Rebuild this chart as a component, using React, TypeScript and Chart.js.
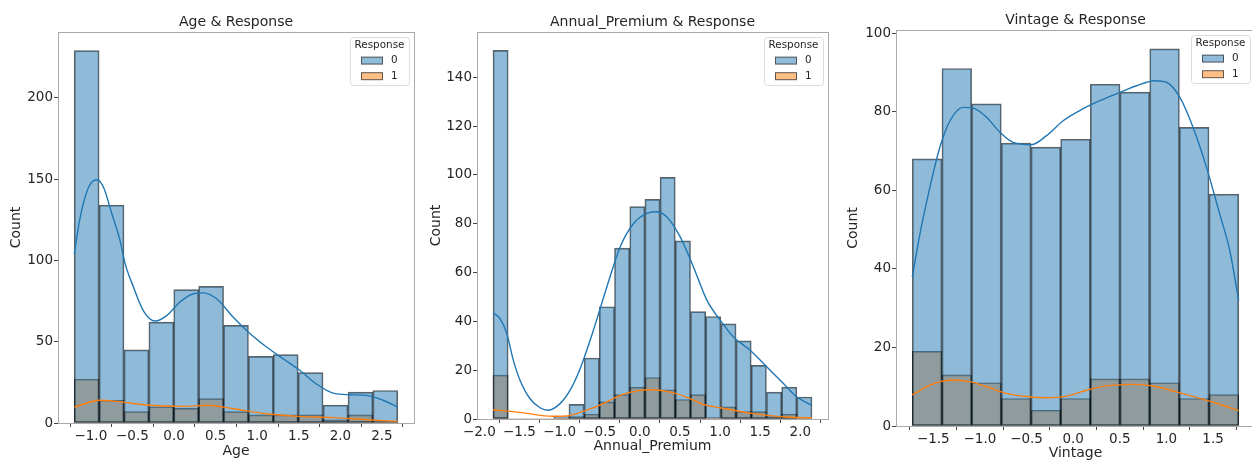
import { useEffect, useRef } from "react";
import { Chart, registerables } from "chart.js";

Chart.register(...registerables);
Chart.defaults.font.family = '"DejaVu Sans", sans-serif';

// ---------- data ----------
const responseLevels = ["0", "1"];
const legendTitle = "Response";

// Age
const ageBinCenters = [-1.05, -0.751, -0.452, -0.153, 0.146, 0.446, 0.745, 1.044, 1.343, 1.642, 1.942, 2.241, 2.54];
const ageCount0 = [229, 134, 45, 62, 82, 84, 60, 41, 42, 31, 11, 19, 20];
const ageCount1 = [27, 14, 7, 10, 9, 15, 7, 5, 5, 5, 2, 5, 1];
const ageKde0: number[][] = [
  [-1.2, 104], [-1.128, 126.6], [-1.028, 145], [-0.928, 149.6], [-0.848, 145], [-0.748, 128.7],
  [-0.648, 112], [-0.588, 98], [-0.488, 83.6], [-0.368, 69], [-0.228, 62.7], [-0.088, 66],
  [0.072, 74.4], [0.232, 79.5], [0.352, 80], [0.512, 76.4], [0.712, 65], [0.912, 55],
  [1.112, 46.7], [1.312, 39.5], [1.512, 32.4], [1.712, 24], [1.912, 18.4], [2.112, 17.4],
  [2.312, 17], [2.512, 14], [2.69, 9.8],
];
const ageKde1: number[][] = [
  [-1.2, 9.8], [-0.888, 14], [-0.688, 13.3], [-0.288, 10.9], [0.112, 10.2], [0.392, 10.9],
  [0.712, 8.8], [1.112, 5.7], [1.512, 4.1], [1.912, 3.3], [2.312, 2], [2.69, 1],
];
const ageXTicks = [-1.0, -0.5, 0.0, 0.5, 1.0, 1.5, 2.0, 2.5];
const ageYTicks = [0, 50, 100, 150, 200];

// Annual_Premium
const premBinCenters = [-1.735, -1.546, -1.357, -1.167, -0.978, -0.789, -0.599, -0.41, -0.221, -0.031, 0.158, 0.347, 0.537, 0.726, 0.915, 1.105, 1.294, 1.483, 1.673, 1.862, 2.051];
const premCount0 = [151, 0, 0, 0, 1, 6, 25, 46, 70, 87, 90, 99, 73, 44, 42, 39, 32, 22, 11, 13, 9];
const premCount1 = [18, 0, 0, 0, 0, 1, 2, 7, 10, 13, 17, 12, 8, 10, 0, 5, 3, 3, 1, 2, 0];
const premKde0: number[][] = [
  [-1.829, 43.5], [-1.742, 41.1], [-1.658, 35], [-1.576, 24], [-1.493, 15.9], [-1.368, 8.3],
  [-1.243, 4.6], [-1.14, 3.6], [-0.994, 6.3], [-0.869, 11.8], [-0.744, 20.6], [-0.578, 36.4],
  [-0.411, 54.1], [-0.245, 70.5], [-0.08, 80], [0.087, 84.2], [0.191, 84.9], [0.337, 82.8],
  [0.503, 74.6], [0.668, 62.3], [0.835, 48.7], [1.001, 40.5], [1.167, 33.6], [1.375, 28.2],
  [1.584, 21.3], [1.79, 14.5], [1.958, 9], [2.145, 5.6],
];
const premKde1: number[][] = [
  [-1.829, 3.8], [-1.493, 2.7], [-1.077, 1.1], [-0.869, 1.5], [-0.661, 3.6], [-0.453, 6.3],
  [-0.245, 9.7], [-0.037, 11.5], [0.15, 12], [0.37, 11.1], [0.58, 9], [0.79, 6], [1.0, 4.6],
  [1.21, 3.3], [1.42, 2.2], [1.625, 1.4], [1.83, 0.8], [2.145, 0.5],
];
const premXTicks = [-2.0, -1.5, -1.0, -0.5, 0.0, 0.5, 1.0, 1.5, 2.0];
const premYTicks = [0, 20, 40, 60, 80, 100, 120, 140];

// Vintage
const vintBinCenters = [-1.566, -1.248, -0.93, -0.611, -0.293, 0.025, 0.343, 0.661, 0.98, 1.298, 1.616];
const vintCount0 = [68, 91, 82, 72, 71, 73, 87, 85, 96, 76, 59];
const vintCount1 = [19, 13, 11, 7, 4, 7, 12, 12, 11, 7, 8];
const vintKde0: number[][] = [
  [-1.725, 37.9], [-1.643, 48.9], [-1.536, 60.8], [-1.429, 71], [-1.321, 77.7], [-1.179, 81.1],
  [-1.071, 80.9], [-0.929, 78.6], [-0.786, 74.8], [-0.643, 72.2], [-0.446, 71.6], [-0.286, 73.9],
  [-0.107, 77.7], [0.071, 80.3], [0.286, 82.8], [0.5, 84.9], [0.679, 86.6], [0.875, 87.9],
  [1.0, 87.5], [1.143, 83.7], [1.286, 76], [1.429, 65.9], [1.571, 54], [1.679, 44.7], [1.775, 32],
];
const vintKde1: number[][] = [
  [-1.725, 7.9], [-1.571, 10], [-1.429, 11.3], [-1.286, 11.7], [-1.107, 11.3], [-0.929, 10],
  [-0.714, 8.3], [-0.5, 7.5], [-0.286, 7.2], [-0.071, 7.6], [0.143, 9.1], [0.357, 10.2],
  [0.643, 10.6], [0.893, 10], [1.107, 8.7], [1.321, 7.3], [1.536, 5.8], [1.775, 3.9],
];
const vintXTicks = [-1.5, -1.0, -0.5, 0.0, 0.5, 1.0, 1.5];
const vintYTicks = [0, 20, 40, 60, 80, 100];

// ---------- styles ----------
const TEXT = "#262626";
const SPINE = "#a9a9a9";
const TICK = "#444444";
const BLUE = "rgb(31,119,180)";
const ORANGE = "rgb(255,127,14)";
const BLUE_FILL = "rgba(31,119,180,0.5)";
const ORANGE_FILL = "rgba(255,127,14,0.5)";
const EDGE = "rgba(0,0,0,0.62)";

type PanelCfg = {
  title: string;
  xLabel: string;
  centers: number[];
  c0: number[];
  c1: number[];
  kde0: number[][];
  kde1: number[][];
  xTicks: number[];
  yTicks: number[];
  xMin: number;
  xMax: number;
  yMax: number;
  canvasLeft: number;
  canvasWidth: number;
  yAxisW: number;
  padR: number;
  padT: number;
  xAxisH: number;
  yTitlePad: number;
  xTitlePad: number;
};

const panels: PanelCfg[] = [
  {
    title: "Age & Response", xLabel: "Age",
    centers: ageBinCenters, c0: ageCount0, c1: ageCount1, kde0: ageKde0, kde1: ageKde1,
    xTicks: ageXTicks, yTicks: ageYTicks, xMin: -1.395, xMax: 2.885, yMax: 240.45,
    canvasLeft: 0, canvasWidth: 430, yAxisW: 58, padR: 16, padT: 32, xAxisH: 39,
    yTitlePad: 7.6, xTitlePad: 2.6,
  },
  {
    title: "Annual_Premium & Response", xLabel: "Annual_Premium",
    centers: premBinCenters, c0: premCount0, c1: premCount1, kde0: premKde0, kde1: premKde1,
    xTicks: premXTicks, yTicks: premYTicks, xMin: -2.029, xMax: 2.345, yMax: 158.55,
    canvasLeft: 420, canvasWidth: 420, yAxisW: 57, padR: 12, padT: 32, xAxisH: 43,
    yTitlePad: 7.6, xTitlePad: 7.6,
  },
  {
    title: "Vintage & Response", xLabel: "Vintage",
    centers: vintBinCenters, c0: vintCount0, c1: vintCount1, kde0: vintKde0, kde1: vintKde1,
    xTicks: vintXTicks, yTicks: vintYTicks, xMin: -1.9, xMax: 1.95, yMax: 100.8,
    canvasLeft: 840, canvasWidth: 420, yAxisW: 56, padR: 5, padT: 30, xAxisH: 36,
    yTitlePad: 4.6, xTitlePad: 0.6,
  },
];

const fmtX = (v: number) => v.toFixed(1).replace("-", "\u2212");

const decorPlugin = {
  id: "decor",
  afterDatasetsDraw(chart: any, _args: any, opts: any) {
    const { ctx, chartArea: a } = chart;
    ctx.save();
    // frame
    ctx.strokeStyle = SPINE;
    ctx.lineWidth = 1;
    ctx.strokeRect(Math.round(a.left) + 0.5, Math.round(a.top) + 0.5, Math.round(a.right - a.left), Math.round(a.bottom - a.top));
    // title
    ctx.fillStyle = TEXT;
    ctx.font = '14px "DejaVu Sans"';
    ctx.textAlign = "center";
    ctx.textBaseline = "middle";
    ctx.fillText(opts.title, (a.left + a.right) / 2, a.top - 10);
    // legend
    const bw = 59, bh = 48;
    const bx = a.right - 5 - bw, by = a.top + 5;
    ctx.beginPath();
    ctx.roundRect(bx + 0.5, by + 0.5, bw, bh, 3);
    ctx.fillStyle = "rgba(255,255,255,0.8)";
    ctx.fill();
    ctx.strokeStyle = "#dcdcdc";
    ctx.stroke();
    ctx.fillStyle = TEXT;
    ctx.font = '10.4px "DejaVu Sans"';
    ctx.textAlign = "center";
    ctx.fillText(legendTitle, bx + bw / 2, by + 8.5);
    const fills = [BLUE_FILL, ORANGE_FILL];
    responseLevels.forEach((lab, i) => {
      const cy = by + 23.6 + i * 15.6;
      ctx.fillStyle = "#fff";
      ctx.fillRect(bx + 11.5, cy - 3.5, 21, 7);
      ctx.fillStyle = fills[i];
      ctx.fillRect(bx + 11.5, cy - 3.5, 21, 7);
      ctx.strokeStyle = EDGE;
      ctx.strokeRect(bx + 11.5, cy - 3.5, 21, 7);
      ctx.fillStyle = TEXT;
      ctx.textAlign = "left";
      ctx.fillText(lab, bx + 41, cy);
    });
    ctx.restore();
  },
};

function makeConfig(p: PanelCfg): any {
  const barBorder = (c: any) => (c.raw && c.raw.y > 0 ? 1 : 0);
  return {
    type: "bar",
    data: {
      datasets: [
        {
          type: "line", label: "kde0", order: 0,
          data: p.kde0.map(([x, y]) => ({ x, y })),
          borderColor: BLUE, borderWidth: 1.4, pointRadius: 0, fill: false,
          cubicInterpolationMode: "monotone",
        },
        {
          type: "line", label: "kde1", order: 0,
          data: p.kde1.map(([x, y]) => ({ x, y })),
          borderColor: ORANGE, borderWidth: 1.4, pointRadius: 0, fill: false,
          cubicInterpolationMode: "monotone",
        },
        {
          type: "bar", label: responseLevels[0], order: 1,
          data: p.centers.map((x, i) => ({ x, y: p.c0[i] })),
          backgroundColor: BLUE_FILL, borderColor: EDGE, borderWidth: barBorder,
          borderSkipped: false, grouped: false, barPercentage: 1, categoryPercentage: 1,
        },
        {
          type: "bar", label: responseLevels[1], order: 2,
          data: p.centers.map((x, i) => ({ x, y: p.c1[i] })),
          backgroundColor: ORANGE_FILL, borderColor: EDGE, borderWidth: barBorder,
          borderSkipped: false, grouped: false, barPercentage: 1, categoryPercentage: 1,
        },
      ],
    },
    options: {
      responsive: false,
      animation: false,
      events: [],
      layout: { padding: { left: 0, right: p.padR, top: p.padT, bottom: 0 } },
      plugins: {
        legend: { display: false },
        title: { display: false },
        tooltip: { enabled: false },
        decor: { title: p.title },
      },
      scales: {
        x: {
          type: "linear",
          min: p.xMin,
          max: p.xMax,
          offset: false,
          afterBuildTicks: (s: any) => { s.ticks = p.xTicks.map((value) => ({ value })); },
          afterFit: (s: any) => { s.height = p.xAxisH; },
          ticks: {
            color: TEXT, font: { size: 13.5 }, padding: 1, maxRotation: 0, autoSkip: false,
            callback: (v: any) => fmtX(Number(v)),
          },
          grid: { display: true, drawOnChartArea: false, drawTicks: true, tickLength: 4, tickColor: TICK, tickWidth: 1 },
          border: { display: false },
          title: { display: true, text: p.xLabel, color: TEXT, font: { size: 14 }, padding: { top: 0, bottom: p.xTitlePad } },
        },
        y: {
          type: "linear",
          min: 0,
          max: p.yMax,
          afterBuildTicks: (s: any) => { s.ticks = p.yTicks.map((value) => ({ value })); },
          afterFit: (s: any) => { s.width = p.yAxisW; },
          ticks: { color: TEXT, font: { size: 13.5 }, padding: 1, callback: (v: any) => String(v) },
          grid: { display: true, drawOnChartArea: false, drawTicks: true, tickLength: 4, tickColor: TICK, tickWidth: 1 },
          border: { display: false },
          title: { display: true, text: "Count", color: TEXT, font: { size: 14 }, padding: { top: p.yTitlePad, bottom: 0 } },
        },
      },
    },
    plugins: [decorPlugin],
  };
}

function Panel({ p }: { p: PanelCfg }) {
  const ref = useRef<HTMLCanvasElement | null>(null);
  useEffect(() => {
    if (!ref.current) return;
    const chart = new Chart(ref.current, makeConfig(p));
    return () => chart.destroy();
  }, [p]);
  return (
    <canvas
      ref={ref}
      width={p.canvasWidth}
      height={462}
      style={{ position: "absolute", left: p.canvasLeft, top: 0, width: p.canvasWidth, height: 462, display: "block" }}
    />
  );
}

export default function App() {
  return (
    <div style={{ position: "fixed", left: 0, top: 0, width: 1252, height: 462, overflow: "hidden", background: "#fff" }}>
      {panels.map((p) => (
        <Panel key={p.title} p={p} />
      ))}
    </div>
  );
}
